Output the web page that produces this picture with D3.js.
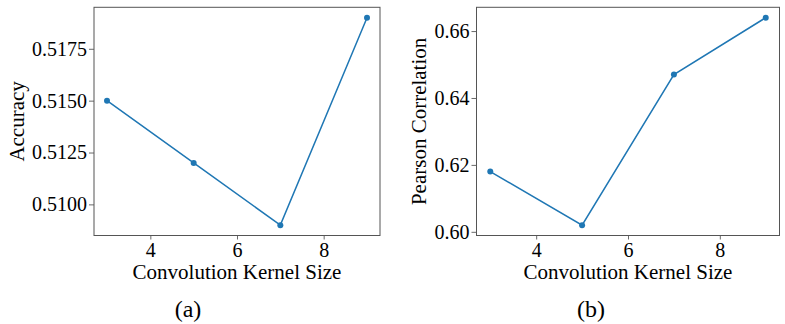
<!DOCTYPE html>
<html><head><meta charset="utf-8">
<script src="https://cdn.jsdelivr.net/npm/d3@7"></script>
<style>body{margin:0;background:#fff}</style>
</head><body><svg id="c" width="785" height="324"></svg>
<script>
const kernelSizes = [3, 5, 7, 9];
const accuracy = [0.5150, 0.5120, 0.5090, 0.5190];
const pearson = [0.618, 0.602, 0.647, 0.664];
const xTicks = [4, 6, 8];
const accTicks = [0.5100, 0.5125, 0.5150, 0.5175];
const pearTicks = [0.60, 0.62, 0.64, 0.66];
const captions = ["(a)", "(b)"];
const yLabels = ["Accuracy", "Pearson Correlation"];
const xLabel = "Convolution Kernel Size";

const FONT = "Liberation Serif, Times New Roman, serif";
const svg = d3.select("#c").attr("font-family", FONT);
const panels = [
  {x0: 94, x1: 380, vals: accuracy, ticks: accTicks, fmt: d3.format(".4f"), ylab: yLabels[0], labX: 17, cap: captions[0], capX: 188},
  {x0: 476.5, x1: 779.5, vals: pearson, ticks: pearTicks, fmt: d3.format(".2f"), ylab: yLabels[1], labX: 419, cap: captions[1], capX: 591}
];
const plotTop = 7.3, plotBot = 235.5;
panels.forEach(p => {
  const xs = d3.scaleLinear().domain([2.7, 9.3]).range([p.x0, p.x1]);
  const ext = d3.extent(p.vals), pad = (ext[1]-ext[0])*0.05;
  const ys = d3.scaleLinear().domain([ext[0]-pad, ext[1]+pad]).range([plotBot, plotTop]);
  const g = svg.append("g");
  const xa = g.append("g").attr("transform", `translate(0,${plotBot})`)
    .call(d3.axisBottom(xs).tickValues(xTicks).tickFormat(d3.format("d")).tickSize(4).tickPadding(3));
  const ya = g.append("g").attr("transform", `translate(${p.x0},0)`)
    .call(d3.axisLeft(ys).tickValues(p.ticks).tickFormat(p.fmt).tickSize(5).tickPadding(2));
  [xa, ya].forEach(a => {
    a.attr("font-family", FONT);
    a.select(".domain").remove();
    a.selectAll("line").attr("stroke", "#444").attr("stroke-width", 0.8);
    a.selectAll("text").attr("font-size", 20).attr("fill", "#000");
  });
  xa.selectAll("text").attr("dy", "0.72em");
  g.append("rect").attr("x", p.x0).attr("y", plotTop).attr("width", p.x1-p.x0).attr("height", plotBot-plotTop)
    .attr("fill", "none").attr("stroke", "#555").attr("stroke-width", 1);
  const line = d3.line().x((d,i) => xs(kernelSizes[i])).y(d => ys(d));
  g.append("path").datum(p.vals).attr("d", line).attr("fill", "none")
    .attr("stroke", "#1f77b4").attr("stroke-width", 1.5);
  g.selectAll("circle").data(p.vals).join("circle")
    .attr("cx", (d,i) => xs(kernelSizes[i])).attr("cy", d => ys(d)).attr("r", 3).attr("fill", "#1f77b4");
  g.append("text").attr("x", (p.x0+p.x1)/2).attr("y", 279).attr("text-anchor", "middle")
    .attr("font-size", 21).text(xLabel);
  g.append("text").attr("transform", `translate(${p.labX},${(plotTop+plotBot)/2}) rotate(-90)`)
    .attr("text-anchor", "middle").attr("dy", "0.35em").attr("font-size", 21).text(p.ylab);
  g.append("text").attr("x", p.capX).attr("y", 317).attr("text-anchor", "middle")
    .attr("font-size", 24).text(p.cap);
});
</script></body></html>
